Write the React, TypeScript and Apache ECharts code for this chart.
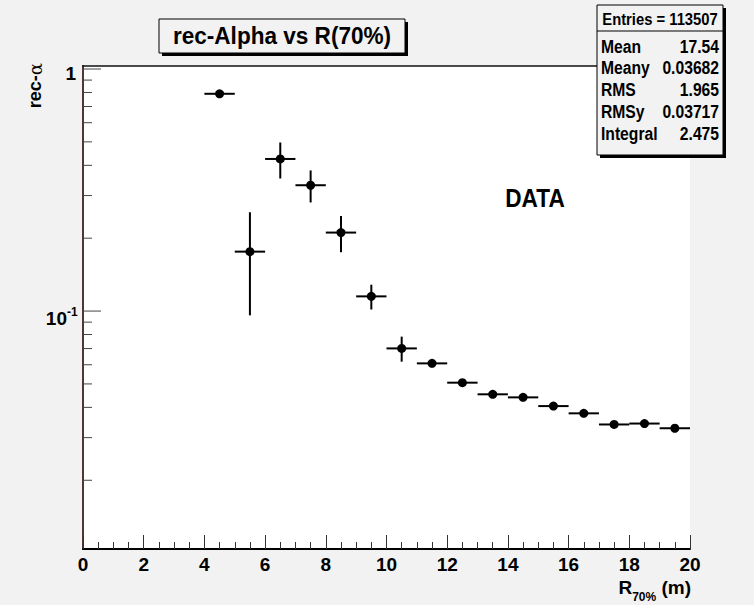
import React, { useEffect, useRef } from 'react';
import * as echarts from 'echarts';

// rec-alpha per R(70%) bin (log scale), with statistical errors
const binCenters = [4.5, 5.5, 6.5, 7.5, 8.5, 9.5, 10.5, 11.5, 12.5, 13.5, 14.5, 15.5, 16.5, 17.5, 18.5, 19.5];
const recAlpha = [0.79, 0.176, 0.425, 0.331, 0.211, 0.115, 0.0701, 0.0608, 0.0506, 0.0453, 0.044, 0.0405, 0.0378, 0.034, 0.0343, 0.0328];
const recAlphaErr = [0.02, 0.08, 0.072, 0.05, 0.036, 0.0135, 0.0083, 0.0022, 0.0012, 0.0011, 0.0011, 0.0009, 0.0008, 0.0007, 0.0007, 0.0007];
const binWidth = 1;

// log-axis ticks and labels
const yMajorTicks = [0.1, 1];
const yMinorTicks = [0.02, 0.03, 0.04, 0.05, 0.06, 0.07, 0.08, 0.09, 0.2, 0.3, 0.4, 0.5, 0.6, 0.7, 0.8, 0.9];
const yLabelValues = [1, 0.1];
const yLabelBase = ['1', '10'];
const yLabelExp = ['', '-1'];

// statistics box
const statsTitle = 'Entries = 113507';
const statsNames = ['Mean', 'Meany', 'RMS', 'RMSy', 'Integral'];
const statsValues = ['17.54', '0.03682', '1.965', '0.03717', '2.475'];

const FONT = '"Liberation Sans", Arial, Helvetica, sans-serif';
const Y_MIN = 0.0104;
const Y_MAX = 1.029;
// narrow Helvetica look for the pave texts
const NARROW = 0.87;

function buildOption() {
  const points = binCenters.map((x, i) => [x, recAlpha[i], recAlpha[i] - recAlphaErr[i], recAlpha[i] + recAlphaErr[i]]);
  const tickData = [
    ...yMajorTicks.map((v) => [0, v, 1]),
    ...yMinorTicks.map((v) => [0, v, 0]),
  ];
  const labelData = yLabelValues.map((v) => [0, v]);

  const statsTop = 5;
  const statsLeft = 597;
  const statsW = 126;
  const statsH = 150;
  const rowY = [47, 68, 90, 112, 134];

  const graphic: any[] = [
    // title pave
    { type: 'rect', shape: { x: 162, y: 22, width: 246, height: 34 }, style: { fill: '#000' }, z: 10 },
    { type: 'rect', shape: { x: 159, y: 19, width: 246, height: 34 }, style: { fill: '#f2f2f2', stroke: '#000', lineWidth: 1 }, z: 11 },
    {
      type: 'text', x: 282, y: 36, z: 12, scaleX: 0.94,
      style: { text: 'rec-Alpha vs R(70%)', font: `bold 24px ${FONT}`, fill: '#000', align: 'center', verticalAlign: 'middle' },
    },
    // stats pave
    { type: 'rect', shape: { x: statsLeft + 3, y: statsTop + 3, width: statsW, height: statsH }, style: { fill: '#000' }, z: 10 },
    { type: 'rect', shape: { x: statsLeft, y: statsTop, width: statsW, height: statsH }, style: { fill: '#f2f2f2', stroke: '#000', lineWidth: 1 }, z: 11 },
    { type: 'line', shape: { x1: statsLeft, y1: 31, x2: statsLeft + statsW, y2: 31 }, style: { stroke: '#000', lineWidth: 1 }, z: 12 },
    {
      type: 'text', x: statsLeft + statsW / 2, y: 19, z: 12, scaleX: NARROW,
      style: { text: statsTitle, font: `bold 17px ${FONT}`, fill: '#000', align: 'center', verticalAlign: 'middle' },
    },
    ...statsNames.map((name, i) => ({
      type: 'text', x: statsLeft + 4, y: rowY[i], z: 12, scaleX: NARROW,
      style: { text: name, font: `bold 18px ${FONT}`, fill: '#000', align: 'left', verticalAlign: 'middle' },
    })),
    ...statsValues.map((val, i) => ({
      type: 'text', x: statsLeft + statsW - 4, y: rowY[i], z: 12, scaleX: NARROW,
      style: { text: val, font: `bold 18px ${FONT}`, fill: '#000', align: 'right', verticalAlign: 'middle' },
    })),
    // DATA tag
    {
      type: 'text', x: 535, y: 198, z: 12, scaleX: NARROW,
      style: { text: 'DATA', font: `bold 26px ${FONT}`, fill: '#000', align: 'center', verticalAlign: 'middle' },
    },
    // y-axis title
    {
      type: 'text', x: 35, y: 63, rotation: Math.PI / 2, z: 12,
      style: {
        text: '{a|rec-}{g|α}',
        align: 'right', verticalAlign: 'middle',
        rich: {
          a: { font: `bold 18px ${FONT}`, fill: '#000' },
          g: { font: `18px "DejaVu Serif", "Liberation Serif", serif`, fill: '#000' },
        },
      },
    },
    // x-axis title
    {
      type: 'text', x: 691, y: 590, z: 12,
      style: {
        text: '{r|R}{s|70%}{r| (m)}',
        align: 'right', verticalAlign: 'middle',
        rich: {
          r: { font: `bold 19px ${FONT}`, fill: '#000', lineHeight: 25, verticalAlign: 'top' },
          s: { font: `bold 12px ${FONT}`, fill: '#000', lineHeight: 12, verticalAlign: 'bottom' },
        },
      },
    },
  ];

  return {
    animation: false,
    backgroundColor: '#f2f2f2',
    grid: { left: 83, right: 64, top: 66, bottom: 56, show: true, backgroundColor: '#fff', borderWidth: 0, containLabel: false },
    xAxis: [
      {
        type: 'value', min: 0, max: 20, interval: 2,
        axisLine: { show: true, onZero: false, lineStyle: { color: '#000', width: 2 } },
        axisTick: { show: true, inside: true, length: 14, lineStyle: { color: '#333', width: 1 } },
        minorTick: { show: true, splitNumber: 4, length: 7, lineStyle: { color: '#333', width: 1 } },
        axisLabel: { show: true, margin: 6, color: '#000', fontFamily: FONT, fontWeight: 'bold', fontSize: 19 },
        splitLine: { show: false },
      },
      {
        type: 'value', min: 0, max: 20, position: 'top',
        axisLine: { show: true, lineStyle: { color: '#111', width: 1.5 } },
        axisTick: { show: false }, axisLabel: { show: false }, splitLine: { show: false },
      },
    ],
    yAxis: [
      {
        type: 'log', logBase: 10, min: Y_MIN, max: Y_MAX,
        axisLine: { show: true, lineStyle: { color: '#000', width: 2 } },
        axisTick: { show: false }, axisLabel: { show: false }, splitLine: { show: false }, minorTick: { show: false },
      },
      {
        type: 'log', logBase: 10, min: Y_MIN, max: Y_MAX, position: 'right',
        axisLine: { show: true, lineStyle: { color: '#6b4848', width: 1.5 } },
        axisTick: { show: false }, axisLabel: { show: false }, splitLine: { show: false }, minorTick: { show: false },
      },
    ],
    series: [
      {
        type: 'custom', name: 'yticks', xAxisIndex: 0, yAxisIndex: 0, clip: false, silent: true,
        data: tickData,
        renderItem: (params: any, api: any) => {
          const p = api.coord([0, api.value(1)]);
          const len = api.value(2) ? 18 : 9;
          return {
            type: 'line',
            shape: { x1: p[0], y1: p[1], x2: p[0] + len, y2: p[1] },
            style: { stroke: '#444', lineWidth: 1 },
          };
        },
      },
      {
        type: 'custom', name: 'ylabels', xAxisIndex: 0, yAxisIndex: 0, clip: false, silent: true,
        data: labelData,
        renderItem: (params: any, api: any) => {
          const p = api.coord([0, api.value(1)]);
          const i = params.dataIndex;
          const exp = yLabelExp[i];
          if (!exp) {
            return {
              type: 'text', x: p[0] - 7, y: p[1] + 4,
              style: { text: yLabelBase[i], font: `bold 19px ${FONT}`, fill: '#000', align: 'right', verticalAlign: 'middle' },
            };
          }
          return {
            type: 'group',
            children: [
              {
                type: 'text', x: p[0] - 16, y: p[1] + 7,
                style: { text: yLabelBase[i], font: `bold 19px ${FONT}`, fill: '#000', align: 'right', verticalAlign: 'middle' },
              },
              {
                type: 'text', x: p[0] - 16, y: p[1] + 0.5,
                style: { text: exp, font: `bold 12px ${FONT}`, fill: '#000', align: 'left', verticalAlign: 'middle' },
              },
            ],
          };
        },
      },
      {
        type: 'custom', name: 'rec-alpha', xAxisIndex: 0, yAxisIndex: 0, clip: false,
        data: points,
        renderItem: (params: any, api: any) => {
          const x = api.value(0);
          const y = api.value(1);
          const c = api.coord([x, y]);
          const l = api.coord([x - binWidth / 2, y]);
          const r = api.coord([x + binWidth / 2, y]);
          const hi = api.coord([x, api.value(3)]);
          const lo = api.coord([x, api.value(2)]);
          return {
            type: 'group',
            children: [
              { type: 'line', shape: { x1: l[0], y1: l[1], x2: r[0], y2: r[1] }, style: { stroke: '#000', lineWidth: 2 } },
              { type: 'line', shape: { x1: hi[0], y1: hi[1], x2: lo[0], y2: lo[1] }, style: { stroke: '#000', lineWidth: 2 } },
              { type: 'circle', shape: { cx: c[0], cy: c[1], r: 4.5 }, style: { fill: '#000' } },
            ],
          };
        },
      },
    ],
    graphic,
  };
}

export default function App() {
  const ref = useRef<HTMLDivElement>(null);
  useEffect(() => {
    if (!ref.current) return;
    const chart = echarts.init(ref.current, null, { renderer: 'svg' });
    chart.setOption(buildOption() as any);
    return () => chart.dispose();
  }, []);
  return <div ref={ref} style={{ position: 'fixed', left: 0, top: 0, width: 754, height: 605 }} />;
}
